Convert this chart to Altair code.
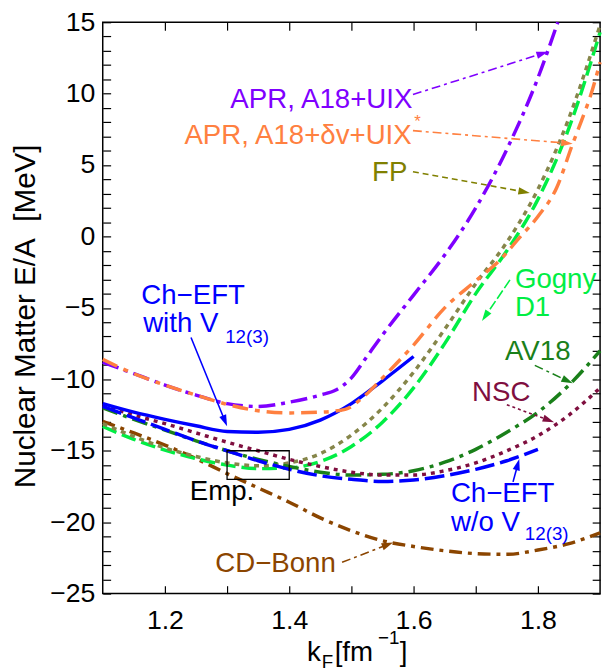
import math
import altair as alt
import pandas as pd

# ---------------- data ----------------
kf17 = [1.10, 1.15, 1.20, 1.25, 1.30, 1.35, 1.40, 1.45, 1.50, 1.55, 1.60, 1.65, 1.70, 1.75, 1.80, 1.85, 1.90]

apr_uix_kf = [1.10, 1.15, 1.20, 1.25, 1.30, 1.35, 1.40, 1.45, 1.475, 1.50, 1.525, 1.55, 1.60, 1.65, 1.70, 1.75, 1.80, 1.832]
apr_uix_ea = [-8.8, -9.6, -10.4, -11.1, -11.7, -11.9, -11.6, -11.1, -10.75, -9.9, -8.4, -6.9, -4.1, -1.3, 2.0, 6.1, 11.1, 15.0]

apr_dv_kf = [1.10, 1.15, 1.20, 1.25, 1.30, 1.35, 1.40, 1.45, 1.49, 1.52, 1.55, 1.60, 1.65, 1.70,
             1.74, 1.77, 1.80, 1.83, 1.856, 1.87, 1.885, 1.90]
apr_dv_ea = [-8.6, -9.6, -10.4, -11.1, -11.75, -12.2, -12.35, -12.3, -12.1, -11.2, -9.9, -7.6, -5.0, -3.1,
             -1.6, -0.1, 1.4, 3.4, 6.5, 8.1, 9.9, 12.2]

chEFT3_kf = [1.10, 1.15, 1.20, 1.25, 1.30, 1.35, 1.40, 1.45, 1.50, 1.55, 1.60]
chEFT3_ea = [-11.7, -12.3, -12.8, -13.25, -13.65, -13.7, -13.5, -12.85, -11.7, -10.1, -8.4]

chEFT_kf = [1.10, 1.15, 1.20, 1.25, 1.30, 1.35, 1.40, 1.45, 1.50, 1.55, 1.60, 1.65, 1.70, 1.75, 1.80]
chEFT_ea = [-11.9, -12.7, -13.5, -14.3, -15.0, -15.7, -16.3, -16.75, -17.0, -17.15, -17.05, -16.75, -16.3, -15.7, -14.9]

av18_ea = [-12.0, -12.8, -13.55, -14.3, -15.0, -15.6, -16.1, -16.5, -16.7, -16.65, -16.4, -15.8, -14.9, -13.7, -12.3, -10.4, -8.0]
nsc_ea = [-11.8, -12.5, -13.1, -13.75, -14.4, -15.0, -15.6, -16.1, -16.5, -16.7, -16.7, -16.4, -15.85, -15.0, -13.95, -12.5, -10.6]
gogny_ea = [-13.3, -14.2, -14.95, -15.55, -16.0, -16.25, -16.2, -15.75, -14.7, -13.0, -10.6, -7.5, -4.0, -1.0, 2.6, 7.6, 14.3]
fp_ea = [-13.1, -14.0, -14.8, -15.4, -15.85, -16.05, -15.85, -15.2, -13.9, -12.0, -9.5, -6.5, -3.3, -0.4, 3.3, 8.3, 14.8]
cdbonn_ea = [-12.95, -13.75, -14.6, -15.55, -16.6, -17.6, -18.6, -19.7, -20.6, -21.3, -21.7, -22.0, -22.2, -22.25, -21.95, -21.5, -20.75]

emp_kf = [1.3, 1.4]
emp_ea = [-17.0, -15.0]

x_ticks = [1.2, 1.3, 1.4, 1.5, 1.6, 1.7, 1.8]
y_ticks = list(range(-25, 16))

# ---------------- styling ----------------
X_MIN, X_MAX = 1.1, 1.9
Y_MIN, Y_MAX = -25, 15
W, H = 504, 579
FONT = "Liberation Sans"

PURPLE = "#7f00ff"
ORANGE = "#ff8040"
OLIVE = "#808000"
OLIVE_L = "#86864a"
GREEN = "#00ee44"
DKGREEN = "#1a801a"
MAROON = "#7f0f3f"
BLUE = "#0000ff"
BROWN = "#8b4500"

xs = alt.Scale(domain=[X_MIN, X_MAX], nice=False, zero=False)
ys = alt.Scale(domain=[Y_MIN, Y_MAX], nice=False, zero=False)

AX = alt.Axis(orient="bottom", values=x_ticks, offset=-8, tickSize=8, tickWidth=1.2, tickColor="black",
              domain=False, grid=False, labelPadding=14, labelFontSize=27, labelFont=FONT,
              labelColor="black", labelFlush=False, labelOverlap=False, title=None,
              labelExpr="round(datum.value*10) % 2 == 0 ? format(datum.value, '.1f') : ''")
AY = alt.Axis(orient="left", values=y_ticks, offset=-8, tickSize=8, tickWidth=1.2, tickColor="black",
              domain=False, grid=False, labelPadding=8, labelFontSize=27, labelFont=FONT,
              labelColor="black", labelFlush=False, labelOverlap=False, title=None,
              labelExpr="datum.value % 5 == 0 ? replace(format(datum.value, 'd'), '-', '\u2212') : ''")
AX2 = alt.Axis(orient="top", values=x_ticks, offset=-8, tickSize=8, tickWidth=1.2, tickColor="black",
               domain=False, grid=False, labels=False, title=None)
AY2 = alt.Axis(orient="right", values=y_ticks, offset=-8, tickSize=8, tickWidth=1.2, tickColor="black",
               domain=False, grid=False, labels=False, title=None)


def enc_xy():
    return dict(x=alt.X("x:Q", scale=xs, axis=AX), y=alt.Y("y:Q", scale=ys, axis=AY))


def curve(kf, ea, color, dash, width=3.5):
    df = pd.DataFrame({"x": kf, "y": ea})
    kw = dict(color=color, strokeWidth=width, interpolate="monotone", strokeCap="butt")
    if dash:
        kw["strokeDash"] = dash
    return alt.Chart(df).mark_line(**kw).encode(**enc_xy())


def to_px(x, y):
    return (x - X_MIN) / (X_MAX - X_MIN) * W, (Y_MAX - y) / (Y_MAX - Y_MIN) * H


def to_data(px, py):
    return X_MIN + px / W * (X_MAX - X_MIN), Y_MAX - py / H * (Y_MAX - Y_MIN)


HEAD = "M0,-1L-0.6,0.9L0.6,0.9Z"
HEAD_SIZE = 150


def arrow(x0, y0, x1, y1, color, dash, width=1.6):
    p0 = to_px(x0, y0)
    p1 = to_px(x1, y1)
    dx, dy = p1[0] - p0[0], p1[1] - p0[1]
    L = math.hypot(dx, dy)
    ux, uy = dx / L, dy / L
    s = math.sqrt(HEAD_SIZE) / 2
    bx, by = to_data(p1[0] - ux * s * 1.6, p1[1] - uy * s * 1.6)
    cx, cy = to_data(p1[0] - ux * s, p1[1] - uy * s)
    ang = math.degrees(math.atan2(ux, -uy)) % 360
    shaft = pd.DataFrame({"x": [x0], "y": [y0], "x2": [bx], "y2": [by]})
    kw = dict(color=color, strokeWidth=width)
    if dash:
        kw["strokeDash"] = dash
    r = alt.Chart(shaft).mark_rule(**kw).encode(
        x=alt.X("x:Q", scale=xs, axis=AX), y=alt.Y("y:Q", scale=ys, axis=AY), x2="x2:Q", y2="y2:Q")
    head = pd.DataFrame({"x": [cx], "y": [cy]})
    h = alt.Chart(head).mark_point(shape=HEAD, filled=True, color=color, opacity=1, size=HEAD_SIZE,
                                   angle=ang, strokeWidth=0).encode(**enc_xy())
    return [r, h]


def label(text, x, y, color, align="left", size=28):
    df = pd.DataFrame({"x": [x], "y": [y], "t": [text]})
    return alt.Chart(df).mark_text(font=FONT, fontSize=size, color=color, align=align,
                                   baseline="alphabetic").encode(text="t:N", **enc_xy())


def ptext(text, px, py, size=28, angle=0, align="left", baseline="alphabetic"):
    df = pd.DataFrame({"t": [text]})
    kw = dict(font=FONT, fontSize=size, color="black", align=align, baseline=baseline)
    if angle:
        kw["angle"] = angle
    return alt.Chart(df).mark_text(**kw).encode(text="t:N", x=alt.value(px), y=alt.value(py))


layers = []
# curves
layers.append(curve(kf17, cdbonn_ea, BROWN, [13, 6, 4, 6]))
layers.append(curve(kf17, gogny_ea, GREEN, [15, 6]))
layers.append(curve(kf17, fp_ea, OLIVE_L, [5, 5]))
layers.append(curve(kf17, av18_ea, DKGREEN, [16, 6, 4, 6]))
layers.append(curve(kf17, nsc_ea, MAROON, [4, 5]))
layers.append(curve(chEFT_kf, chEFT_ea, BLUE, [20, 6]))
layers.append(curve(chEFT3_kf, chEFT3_ea, BLUE, None))
layers.append(curve(apr_uix_kf, apr_uix_ea, PURPLE, [17, 6, 4, 6]))
layers.append(curve(apr_dv_kf, apr_dv_ea, ORANGE, [16, 7, 5, 7]))

# empirical box
emp_df = pd.DataFrame({"x": [emp_kf[0]], "x2": [emp_kf[1]], "y": [emp_ea[0]], "y2": [emp_ea[1]]})
layers.append(alt.Chart(emp_df).mark_rect(fill=None, stroke="black", strokeWidth=1.3, fillOpacity=0).encode(
    x=alt.X("x:Q", scale=xs, axis=AX), x2="x2:Q", y=alt.Y("y:Q", scale=ys, axis=AY), y2="y2:Q"))

# arrows
layers += arrow(1.599, 9.94, 1.816, 12.93, PURPLE, [9, 4, 3, 4])
layers += arrow(1.599, 7.41, 1.856, 6.5, ORANGE, [9, 4, 3, 4])
layers += arrow(1.599, 4.54, 1.787, 3.05, OLIVE, [6, 4])
layers += arrow(1.755, -3.04, 1.710, -5.92, GREEN, [10, 3])
layers += arrow(1.795, -9.02, 1.856, -10.28, DKGREEN, [9, 4, 3, 4])
layers += arrow(1.75, -11.78, 1.826, -13.0, MAROON, [3, 3])
layers += arrow(1.760, -17.18, 1.77, -15.57, BLUE, None)
layers += arrow(1.242, -7.07, 1.30, -13.28, BLUE, None)
layers += arrow(1.485, -22.81, 1.567, -21.43, BROWN, [9, 4, 3, 4])

# annotations
layers.append(label("APR, A18+UIX", 1.598, 9.03, PURPLE, "right"))
layers.append(label("APR, A18+\u03b4v+UIX", 1.597, 6.5, ORANGE, "right"))
layers.append(label("*", 1.601, 7.7, ORANGE, "left", 17))
layers.append(label("FP", 1.590, 3.86, OLIVE, "right"))
layers.append(label("Ch\u2212EFT", 1.162, -4.7, BLUE))
layers.append(label("with V", 1.165, -6.72, BLUE))
layers.append(label("12(3)", 1.297, -7.45, BLUE, "left", 19))
layers.append(label("Gogny", 1.763, -3.6, GREEN))
layers.append(label("D1", 1.763, -5.6, GREEN))
layers.append(label("AV18", 1.747, -8.68, DKGREEN))
layers.append(label("NSC", 1.694, -11.55, MAROON))
layers.append(label("Ch\u2212EFT", 1.66, -18.6, BLUE))
layers.append(label("w/o V", 1.66, -20.63, BLUE))
layers.append(label("12(3)", 1.779, -21.25, BLUE, "left", 19))
layers.append(label("CD\u2212Bonn", 1.281, -23.5, BROWN))
layers.append(label("Emp.", 1.240, -18.47, "black"))

# axis titles (rich text pieces)
layers.append(ptext("Nuclear Matter E/A\u00a0\u00a0[MeV]", -78, 298, 30, angle=270, align="center", baseline="middle"))
layers.append(ptext("k", 207, 647))
layers.append(ptext("F", 222, 654, 19))
layers.append(ptext("[fm", 235, 647))
layers.append(ptext("\u22121", 279, 630, 19))
layers.append(ptext("]", 301, 647))

main = alt.layer(*layers)

mirror = alt.Chart(pd.DataFrame({"x": [X_MIN], "y": [Y_MIN]})).mark_point(opacity=0).encode(
    x=alt.X("x:Q", scale=xs, axis=AX2), y=alt.Y("y:Q", scale=ys, axis=AY2))

chart = alt.layer(main, mirror).resolve_axis(x="independent", y="independent").properties(
    width=W, height=H,
    padding={"left": 96, "top": 10, "right": 6, "bottom": 74},
    autosize=alt.AutoSizeParams(type="none"),
    background="white",
).configure_view(stroke="black", strokeWidth=1.5)

chart.save("out.html", embed_options={"renderer": "svg", "actions": False})
